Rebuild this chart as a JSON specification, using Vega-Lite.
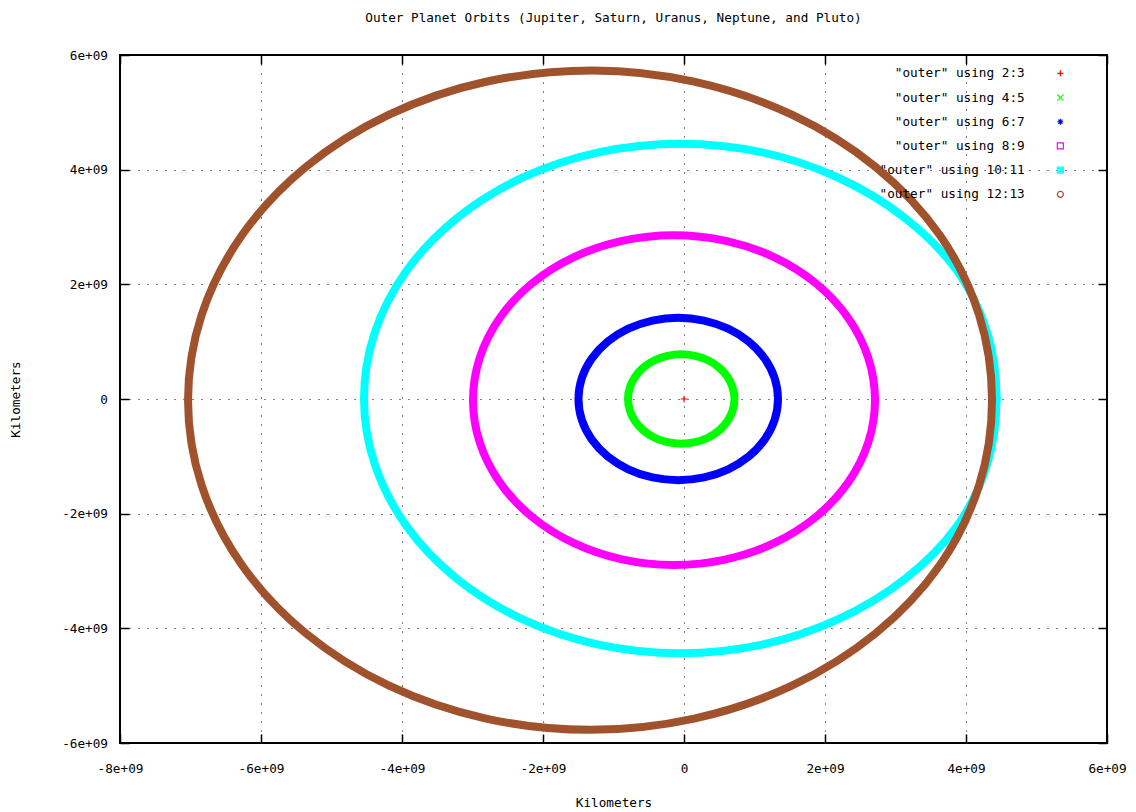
{
  "$schema": "https://vega.github.io/schema/vega-lite/v6.json",
  "width": 987,
  "height": 688,
  "autosize": {"type": "none"},
  "padding": {"left": 120, "top": 55, "right": 29, "bottom": 69},
  "background": "white",
  "title": {"text": "Outer Planet Orbits (Jupiter, Saturn, Uranus, Neptune, and Pluto)", "font": "DejaVu Sans Mono", "fontSize": 12.7, "fontWeight": "normal", "color": "black", "anchor": "middle", "offset": 24},
  "config": {
    "view": {"stroke": "black", "strokeWidth": 2},
    "axis": {"labelFont": "DejaVu Sans Mono", "labelFontSize": 12.7, "labelColor": "black", "titleFont": "DejaVu Sans Mono", "titleFontSize": 12.7, "titleFontWeight": "normal", "titleColor": "black", "tickColor": "black", "tickSize": -9, "tickWidth": 1.5, "domain": false, "gridColor": "black", "gridDash": [1, 8], "gridOpacity": 1, "gridWidth": 1, "labelFlush": false, "labelOverlap": false}
  },
  "datasets": {
    "orbits": [
      {"series": "\"outer\" using 2:3", "i": 0, "x": 0, "y": 0},

      {"series": "\"outer\" using 4:5", "i": 0, "x": 0.716e9, "y": 0},
      {"series": "\"outer\" using 4:5", "i": 1, "x": 0.690e9, "y": 0.202e9},
      {"series": "\"outer\" using 4:5", "i": 2, "x": 0.615e9, "y": 0.390e9},
      {"series": "\"outer\" using 4:5", "i": 3, "x": 0.495e9, "y": 0.552e9},
      {"series": "\"outer\" using 4:5", "i": 4, "x": 0.339e9, "y": 0.676e9},
      {"series": "\"outer\" using 4:5", "i": 5, "x": 0.156e9, "y": 0.753e9},
      {"series": "\"outer\" using 4:5", "i": 6, "x": -0.039e9, "y": 0.780e9},
      {"series": "\"outer\" using 4:5", "i": 7, "x": -0.234e9, "y": 0.753e9},
      {"series": "\"outer\" using 4:5", "i": 8, "x": -0.417e9, "y": 0.676e9},
      {"series": "\"outer\" using 4:5", "i": 9, "x": -0.573e9, "y": 0.552e9},
      {"series": "\"outer\" using 4:5", "i": 10, "x": -0.693e9, "y": 0.390e9},
      {"series": "\"outer\" using 4:5", "i": 11, "x": -0.768e9, "y": 0.202e9},
      {"series": "\"outer\" using 4:5", "i": 12, "x": -0.794e9, "y": 0},
      {"series": "\"outer\" using 4:5", "i": 13, "x": -0.768e9, "y": -0.202e9},
      {"series": "\"outer\" using 4:5", "i": 14, "x": -0.693e9, "y": -0.390e9},
      {"series": "\"outer\" using 4:5", "i": 15, "x": -0.573e9, "y": -0.552e9},
      {"series": "\"outer\" using 4:5", "i": 16, "x": -0.417e9, "y": -0.676e9},
      {"series": "\"outer\" using 4:5", "i": 17, "x": -0.234e9, "y": -0.753e9},
      {"series": "\"outer\" using 4:5", "i": 18, "x": -0.039e9, "y": -0.780e9},
      {"series": "\"outer\" using 4:5", "i": 19, "x": 0.156e9, "y": -0.753e9},
      {"series": "\"outer\" using 4:5", "i": 20, "x": 0.339e9, "y": -0.676e9},
      {"series": "\"outer\" using 4:5", "i": 21, "x": 0.495e9, "y": -0.552e9},
      {"series": "\"outer\" using 4:5", "i": 22, "x": 0.615e9, "y": -0.390e9},
      {"series": "\"outer\" using 4:5", "i": 23, "x": 0.690e9, "y": -0.202e9},

      {"series": "\"outer\" using 6:7", "i": 0, "x": 1.333e9, "y": 0},
      {"series": "\"outer\" using 6:7", "i": 1, "x": 1.285e9, "y": 0.367e9},
      {"series": "\"outer\" using 6:7", "i": 2, "x": 1.143e9, "y": 0.708e9},
      {"series": "\"outer\" using 6:7", "i": 3, "x": 0.919e9, "y": 1.001e9},
      {"series": "\"outer\" using 6:7", "i": 4, "x": 0.626e9, "y": 1.226e9},
      {"series": "\"outer\" using 6:7", "i": 5, "x": 0.284e9, "y": 1.368e9},
      {"series": "\"outer\" using 6:7", "i": 6, "x": -0.082e9, "y": 1.416e9},
      {"series": "\"outer\" using 6:7", "i": 7, "x": -0.448e9, "y": 1.368e9},
      {"series": "\"outer\" using 6:7", "i": 8, "x": -0.790e9, "y": 1.226e9},
      {"series": "\"outer\" using 6:7", "i": 9, "x": -1.083e9, "y": 1.001e9},
      {"series": "\"outer\" using 6:7", "i": 10, "x": -1.307e9, "y": 0.708e9},
      {"series": "\"outer\" using 6:7", "i": 11, "x": -1.449e9, "y": 0.367e9},
      {"series": "\"outer\" using 6:7", "i": 12, "x": -1.497e9, "y": 0},
      {"series": "\"outer\" using 6:7", "i": 13, "x": -1.449e9, "y": -0.367e9},
      {"series": "\"outer\" using 6:7", "i": 14, "x": -1.307e9, "y": -0.708e9},
      {"series": "\"outer\" using 6:7", "i": 15, "x": -1.083e9, "y": -1.001e9},
      {"series": "\"outer\" using 6:7", "i": 16, "x": -0.790e9, "y": -1.226e9},
      {"series": "\"outer\" using 6:7", "i": 17, "x": -0.448e9, "y": -1.368e9},
      {"series": "\"outer\" using 6:7", "i": 18, "x": -0.082e9, "y": -1.416e9},
      {"series": "\"outer\" using 6:7", "i": 19, "x": 0.284e9, "y": -1.368e9},
      {"series": "\"outer\" using 6:7", "i": 20, "x": 0.626e9, "y": -1.226e9},
      {"series": "\"outer\" using 6:7", "i": 21, "x": 0.919e9, "y": -1.001e9},
      {"series": "\"outer\" using 6:7", "i": 22, "x": 1.143e9, "y": -0.708e9},
      {"series": "\"outer\" using 6:7", "i": 23, "x": 1.285e9, "y": -0.367e9},

      {"series": "\"outer\" using 8:9", "i": 0, "x": 2.709e9, "y": -0.02e9},
      {"series": "\"outer\" using 8:9", "i": 1, "x": 2.612e9, "y": 0.724e9},
      {"series": "\"outer\" using 8:9", "i": 2, "x": 2.327e9, "y": 1.418e9},
      {"series": "\"outer\" using 8:9", "i": 3, "x": 1.874e9, "y": 2.014e9},
      {"series": "\"outer\" using 8:9", "i": 4, "x": 1.284e9, "y": 2.471e9},
      {"series": "\"outer\" using 8:9", "i": 5, "x": 0.596e9, "y": 2.758e9},
      {"series": "\"outer\" using 8:9", "i": 6, "x": -0.142e9, "y": 2.856e9},
      {"series": "\"outer\" using 8:9", "i": 7, "x": -0.880e9, "y": 2.758e9},
      {"series": "\"outer\" using 8:9", "i": 8, "x": -1.568e9, "y": 2.471e9},
      {"series": "\"outer\" using 8:9", "i": 9, "x": -2.158e9, "y": 2.014e9},
      {"series": "\"outer\" using 8:9", "i": 10, "x": -2.611e9, "y": 1.418e9},
      {"series": "\"outer\" using 8:9", "i": 11, "x": -2.896e9, "y": 0.724e9},
      {"series": "\"outer\" using 8:9", "i": 12, "x": -2.993e9, "y": -0.02e9},
      {"series": "\"outer\" using 8:9", "i": 13, "x": -2.896e9, "y": -0.764e9},
      {"series": "\"outer\" using 8:9", "i": 14, "x": -2.611e9, "y": -1.458e9},
      {"series": "\"outer\" using 8:9", "i": 15, "x": -2.158e9, "y": -2.054e9},
      {"series": "\"outer\" using 8:9", "i": 16, "x": -1.568e9, "y": -2.511e9},
      {"series": "\"outer\" using 8:9", "i": 17, "x": -0.880e9, "y": -2.798e9},
      {"series": "\"outer\" using 8:9", "i": 18, "x": -0.142e9, "y": -2.896e9},
      {"series": "\"outer\" using 8:9", "i": 19, "x": 0.596e9, "y": -2.798e9},
      {"series": "\"outer\" using 8:9", "i": 20, "x": 1.284e9, "y": -2.511e9},
      {"series": "\"outer\" using 8:9", "i": 21, "x": 1.874e9, "y": -2.054e9},
      {"series": "\"outer\" using 8:9", "i": 22, "x": 2.327e9, "y": -1.458e9},
      {"series": "\"outer\" using 8:9", "i": 23, "x": 2.612e9, "y": -0.764e9},

      {"series": "\"outer\" using 10:11", "i": 0, "x": 4.433e9, "y": 0.01e9},
      {"series": "\"outer\" using 10:11", "i": 1, "x": 4.300e9, "y": 1.160e9},
      {"series": "\"outer\" using 10:11", "i": 2, "x": 3.875e9, "y": 2.232e9},
      {"series": "\"outer\" using 10:11", "i": 3, "x": 3.140e9, "y": 3.152e9},
      {"series": "\"outer\" using 10:11", "i": 4, "x": 2.190e9, "y": 3.859e9},
      {"series": "\"outer\" using 10:11", "i": 5, "x": 1.108e9, "y": 4.303e9},
      {"series": "\"outer\" using 10:11", "i": 6, "x": -0.053e9, "y": 4.454e9},
      {"series": "\"outer\" using 10:11", "i": 7, "x": -1.214e9, "y": 4.303e9},
      {"series": "\"outer\" using 10:11", "i": 8, "x": -2.296e9, "y": 3.859e9},
      {"series": "\"outer\" using 10:11", "i": 9, "x": -3.225e9, "y": 3.152e9},
      {"series": "\"outer\" using 10:11", "i": 10, "x": -3.938e9, "y": 2.232e9},
      {"series": "\"outer\" using 10:11", "i": 11, "x": -4.386e9, "y": 1.160e9},
      {"series": "\"outer\" using 10:11", "i": 12, "x": -4.539e9, "y": 0.01e9},
      {"series": "\"outer\" using 10:11", "i": 13, "x": -4.386e9, "y": -1.140e9},
      {"series": "\"outer\" using 10:11", "i": 14, "x": -3.938e9, "y": -2.212e9},
      {"series": "\"outer\" using 10:11", "i": 15, "x": -3.225e9, "y": -3.132e9},
      {"series": "\"outer\" using 10:11", "i": 16, "x": -2.296e9, "y": -3.839e9},
      {"series": "\"outer\" using 10:11", "i": 17, "x": -1.214e9, "y": -4.283e9},
      {"series": "\"outer\" using 10:11", "i": 18, "x": -0.053e9, "y": -4.434e9},
      {"series": "\"outer\" using 10:11", "i": 19, "x": 1.108e9, "y": -4.283e9},
      {"series": "\"outer\" using 10:11", "i": 20, "x": 2.190e9, "y": -3.839e9},
      {"series": "\"outer\" using 10:11", "i": 21, "x": 3.140e9, "y": -3.132e9},
      {"series": "\"outer\" using 10:11", "i": 22, "x": 3.875e9, "y": -2.212e9},
      {"series": "\"outer\" using 10:11", "i": 23, "x": 4.300e9, "y": -1.140e9},

      {"series": "\"outer\" using 12:13", "i": 0, "x": 4.369e9, "y": -0.02e9},
      {"series": "\"outer\" using 12:13", "i": 1, "x": 4.185e9, "y": 1.468e9},
      {"series": "\"outer\" using 12:13", "i": 2, "x": 3.630e9, "y": 2.855e9},
      {"series": "\"outer\" using 12:13", "i": 3, "x": 2.720e9, "y": 4.046e9},
      {"series": "\"outer\" using 12:13", "i": 4, "x": 1.530e9, "y": 4.960e9},
      {"series": "\"outer\" using 12:13", "i": 5, "x": 0.143e9, "y": 5.534e9},
      {"series": "\"outer\" using 12:13", "i": 6, "x": -1.290e9, "y": 5.730e9},
      {"series": "\"outer\" using 12:13", "i": 7, "x": -2.809e9, "y": 5.534e9},
      {"series": "\"outer\" using 12:13", "i": 8, "x": -4.184e9, "y": 4.960e9},
      {"series": "\"outer\" using 12:13", "i": 9, "x": -5.365e9, "y": 4.046e9},
      {"series": "\"outer\" using 12:13", "i": 10, "x": -6.271e9, "y": 2.855e9},
      {"series": "\"outer\" using 12:13", "i": 11, "x": -6.841e9, "y": 1.468e9},
      {"series": "\"outer\" using 12:13", "i": 12, "x": -7.035e9, "y": -0.02e9},
      {"series": "\"outer\" using 12:13", "i": 13, "x": -6.841e9, "y": -1.508e9},
      {"series": "\"outer\" using 12:13", "i": 14, "x": -6.271e9, "y": -2.895e9},
      {"series": "\"outer\" using 12:13", "i": 15, "x": -5.365e9, "y": -4.086e9},
      {"series": "\"outer\" using 12:13", "i": 16, "x": -4.184e9, "y": -5.000e9},
      {"series": "\"outer\" using 12:13", "i": 17, "x": -2.809e9, "y": -5.574e9},
      {"series": "\"outer\" using 12:13", "i": 18, "x": -1.333e9, "y": -5.770e9},
      {"series": "\"outer\" using 12:13", "i": 19, "x": 0.143e9, "y": -5.574e9},
      {"series": "\"outer\" using 12:13", "i": 20, "x": 1.530e9, "y": -5.000e9},
      {"series": "\"outer\" using 12:13", "i": 21, "x": 2.720e9, "y": -4.086e9},
      {"series": "\"outer\" using 12:13", "i": 22, "x": 3.630e9, "y": -2.895e9},
      {"series": "\"outer\" using 12:13", "i": 23, "x": 4.185e9, "y": -1.508e9}
    ]
  },
  "data": {"name": "orbits"},
  "layer": [
    {
      "transform": [{"filter": "datum.i == 0"}],
      "mark": {"type": "point", "filled": false, "size": 45, "strokeWidth": 1.2, "opacity": 1},
      "encoding": {
        "x": {"field": "x", "type": "quantitative", "scale": {"domain": [-8e9, 6e9], "nice": false, "zero": false},
          "axis": {"orient": "bottom", "values": [-8e9, -6e9, -4e9, -2e9, 0, 2e9, 4e9, 6e9], "labelExpr": "datum.value == 0 ? '0' : (datum.value / 1e9) + 'e+09'", "title": "Kilometers", "grid": true, "labelPadding": 28, "titlePadding": 22}},
        "y": {"field": "y", "type": "quantitative", "scale": {"domain": [-6e9, 6e9], "nice": false, "zero": false},
          "axis": {"orient": "left", "values": [-6e9, -4e9, -2e9, 0, 2e9, 4e9, 6e9], "labelExpr": "datum.value == 0 ? '0' : (datum.value / 1e9) + 'e+09'", "title": "Kilometers", "grid": true, "labelPadding": 21.5, "titlePadding": 39}},
        "color": {"field": "series", "type": "nominal",
          "scale": {"domain": ["\"outer\" using 2:3", "\"outer\" using 4:5", "\"outer\" using 6:7", "\"outer\" using 8:9", "\"outer\" using 10:11", "\"outer\" using 12:13"],
                    "range": ["#ff0000", "#00ff00", "#0000ff", "#ff00ff", "#00ffff", "#a0522d"]},
          "legend": {"title": null, "orient": "none", "legendX": 934, "legendY": 12, "labelAlign": "right", "labelOffset": -42, "rowPadding": 10.2, "padding": 0, "symbolSize": 36, "labelFont": "DejaVu Sans Mono", "labelFontSize": 12.7, "labelColor": "black", "labelLimit": 0, "symbolStrokeWidth": 1.2}},
        "shape": {"field": "series", "type": "nominal",
          "scale": {"domain": ["\"outer\" using 2:3", "\"outer\" using 4:5", "\"outer\" using 6:7", "\"outer\" using 8:9", "\"outer\" using 10:11", "\"outer\" using 12:13"],
                    "range": ["M-1,0H1M0,-1V1", "M-1,-1L1,1M-1,1L1,-1", "M-1,0H1M0,-1V1M-0.7,-0.7L0.7,0.7M-0.7,0.7L0.7,-0.7", "M-1,-1H1V1H-1Z", "M-1,-1H1V1H-1ZM-1,-0.5H1M-1,0H1M-1,0.5H1", "circle"]}}
      }
    },
    {
      "transform": [{"filter": "datum.series != '\"outer\" using 2:3'"}],
      "mark": {"type": "line", "interpolate": "cardinal-closed", "tension": 0},
      "encoding": {
        "x": {"field": "x", "type": "quantitative", "scale": {"domain": [-8e9, 6e9], "nice": false, "zero": false},
          "axis": {"orient": "top", "values": [-8e9, -6e9, -4e9, -2e9, 0, 2e9, 4e9, 6e9], "labels": false, "title": null, "grid": false}},
        "y": {"field": "y", "type": "quantitative", "scale": {"domain": [-6e9, 6e9], "nice": false, "zero": false},
          "axis": {"orient": "right", "values": [-6e9, -4e9, -2e9, 0, 2e9, 4e9, 6e9], "labels": false, "title": null, "grid": false}},
        "order": {"field": "i", "type": "quantitative"},
        "stroke": {"field": "series", "type": "nominal",
          "scale": {"domain": ["\"outer\" using 4:5", "\"outer\" using 6:7", "\"outer\" using 8:9", "\"outer\" using 10:11", "\"outer\" using 12:13"],
                    "range": ["#00ff00", "#0000ff", "#ff00ff", "#00ffff", "#a0522d"]},
          "legend": null},
        "strokeWidth": {"field": "series", "type": "nominal",
          "scale": {"domain": ["\"outer\" using 4:5", "\"outer\" using 6:7", "\"outer\" using 8:9", "\"outer\" using 10:11", "\"outer\" using 12:13"],
                    "range": [8, 8, 6, 6, 7]},
          "legend": null}
      }
    }
  ],
  "resolve": {"axis": {"x": "independent", "y": "independent"}}
}
